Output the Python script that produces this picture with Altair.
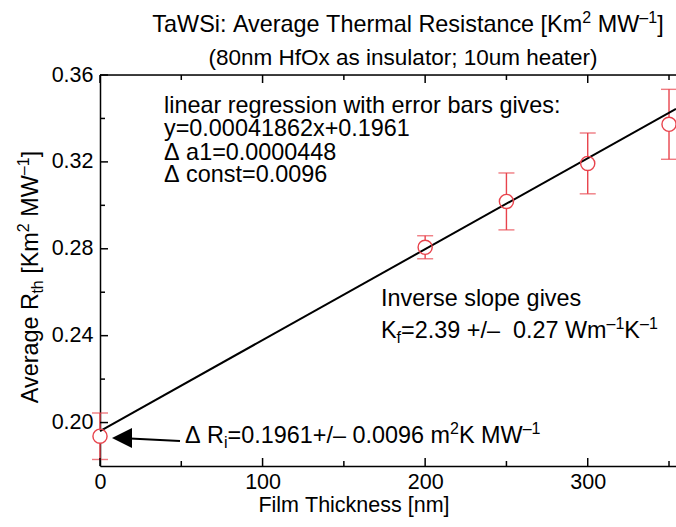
import altair as alt
import pandas as pd

# ---------------- data ----------------
thickness = [0, 200, 250, 300, 350]
rth = [0.1937, 0.2807, 0.3018, 0.3193, 0.3373]
rth_err = [0.0107, 0.0053, 0.0131, 0.0140, 0.0161]

slope = 0.00041862
intercept = 0.1961
fit_x = [0, 354.3]

x_label_ticks = [0, 100, 200, 300]
x_minor_ticks = [50, 150, 250, 350]
y_label_ticks = [0.20, 0.24, 0.28, 0.32, 0.36]
y_minor_ticks = [0.22, 0.26, 0.30, 0.34]

# rich texts: (text, kind) with kind n = normal, sup, sub
title_parts = [("TaWSi: Average Thermal Resistance [Km", "n"), ("2", "sup"),
               (" MW", "n"), ("–1", "sup"), ("]", "n")]
subtitle_text = "(80nm HfOx as insulator; 10um heater)"
x_title = "Film Thickness [nm]"
y_title_parts = [("Average R", "n"), ("th", "sub"), (" [Km", "n"), ("2", "sup"),
                 (" MW", "n"), ("–1", "sup"), ("]", "n")]
fit_lines = ["linear regression with error bars gives:",
             "y=0.00041862x+0.1961",
             "Δ a1=0.0000448",
             "Δ const=0.0096"]
slope_line1 = "Inverse slope gives"
kf_parts = [("K", "n"), ("f", "sub"), ("=2.39 +/–  0.27 Wm", "n"), ("–1", "sup"),
            ("K", "n"), ("–1", "sup")]
ri_parts = [("Δ R", "n"), ("i", "sub"), ("=0.1961+/– 0.0096 m", "n"), ("2", "sup"),
            ("K MW", "n"), ("–1", "sup")]

# ---------------- layout ----------------
W, H = 576, 391
FONT = "Liberation Sans"
FS = 23.4
SUBFS = 16
RED = "#e8434c"
NBSP = "\u00a0"

# Arial / Liberation Sans advance widths (1/1000 em)
AW = {" ": 278, "(": 333, ")": 333, "+": 584, "-": 333, ".": 278, "/": 278,
      ":": 278, ";": 278, "=": 584, "[": 278, "]": 278, "–": 556, "Δ": 668,
      "A": 667, "H": 722, "K": 667, "M": 833, "O": 778, "R": 722, "S": 667,
      "T": 611, "W": 944, "F": 611,
      "a": 556, "b": 556, "c": 500, "e": 556, "f": 278, "g": 556, "h": 556,
      "i": 222, "k": 500, "l": 222, "m": 833, "n": 556, "o": 556, "r": 333,
      "s": 500, "t": 278, "u": 556, "v": 500, "w": 722, "x": 500, "y": 500}
# approximate kerning corrections (px) for segments with kerned pairs
KERN = {"TaWSi: Average Thermal Resistance [Km": -3.0, "Average R": -1.0}


def tw(s, size):
    return sum(AW.get(c, 556) for c in s) / 1000.0 * size + KERN.get(s, 0.0)


pts = pd.DataFrame({"x": thickness, "y": rth,
                    "lo": [v - e for v, e in zip(rth, rth_err)],
                    "hi": [v + e for v, e in zip(rth, rth_err)]})
fit = pd.DataFrame({"x": fit_x, "y": [slope * v + intercept for v in fit_x]})

xs = alt.Scale(domain=[0, fit_x[1]], nice=False, zero=False)
ys = alt.Scale(domain=[0.18, 0.36], nice=False, zero=False)
xaxis = alt.Axis(values=x_label_ticks, ticks=False, tickSize=0, grid=False,
                 domainColor="black", domainWidth=1.5, labelFont=FONT,
                 labelFontSize=21.5, labelColor="black", labelPadding=5,
                 labelFlush=False, labelOverlap=False, title=None)
yaxis = alt.Axis(values=y_label_ticks, format=".2f", ticks=False, tickSize=0,
                 grid=False, domainColor="black", domainWidth=1.5,
                 labelFont=FONT, labelFontSize=21.5, labelColor="black",
                 labelPadding=7, labelFlush=False, labelOverlap=False, title=None)


def X(f="x"):
    return alt.X(f"{f}:Q", scale=xs, axis=xaxis)


def Y(f="y"):
    return alt.Y(f"{f}:Q", scale=ys, axis=yaxis)


layers = []

# error bars
layers.append(alt.Chart(pts).mark_rule(color=RED, strokeWidth=1.4).encode(
    x=X(), y=Y("lo"), y2="hi"))
for f in ["lo", "hi"]:
    layers.append(alt.Chart(pts).mark_tick(color=RED, orient="horizontal",
                                           size=16, thickness=1.4).encode(x=X(), y=Y(f)))
# circles (white filled), regression line, circle outlines
layers.append(alt.Chart(pts).mark_point(shape="circle", filled=True, color="white",
                                        size=200, opacity=1).encode(x=X(), y=Y()))
layers.append(alt.Chart(fit).mark_line(color="black", strokeWidth=2).encode(x=X(), y=Y()))
layers.append(alt.Chart(pts).mark_point(shape="circle", filled=False, color=RED,
                                        size=200, strokeWidth=1.4, opacity=1).encode(x=X(), y=Y()))

# inward ticks
for vals, ln in [(x_label_ticks, 8), (x_minor_ticks, 5)]:
    d = pd.DataFrame({"x": vals})
    layers.append(alt.Chart(d).mark_rule(color="black", strokeWidth=1.5).encode(
        x=X(), y=alt.value(H), y2=alt.value(H - ln)))
    layers.append(alt.Chart(d).mark_rule(color="black", strokeWidth=1.5).encode(
        x=X(), y=alt.value(0), y2=alt.value(ln)))
for vals, ln in [(y_label_ticks, 8), (y_minor_ticks, 5)]:
    d = pd.DataFrame({"y": vals})
    layers.append(alt.Chart(d).mark_rule(color="black", strokeWidth=1.5).encode(
        y=Y(), x=alt.value(0), x2=alt.value(ln)))

# top frame line
one = pd.DataFrame({"t": [""]})
layers.append(alt.Chart(one).mark_rule(color="black", strokeWidth=1.5).encode(
    x=alt.value(0), x2=alt.value(W), y=alt.value(0)))


def txt(t, x, y, size=FS, align="left", angle=0, baseline="alphabetic"):
    d = pd.DataFrame({"t": [t.replace(" ", NBSP)]})
    kw = dict(font=FONT, fontSize=size, color="black", align=align, baseline=baseline)
    if angle:
        kw["angle"] = angle
    return alt.Chart(d).mark_text(**kw).encode(
        text="t:N", x=alt.value(x), y=alt.value(y))


def rich(parts, x, y, center=False, vertical=False):
    sizes = [FS if k == "n" else SUBFS for _, k in parts]
    total = sum(tw(t, s) for (t, _), s in zip(parts, sizes))
    pos = -total / 2 if center else 0.0
    out = []
    for (t, k), s in zip(parts, sizes):
        shift = {"n": 0, "sup": -9, "sub": 5}[k]
        lead = len(t) - len(t.lstrip(" "))
        p = pos + lead * tw(" ", s)
        core = t.strip(" ")
        if vertical:
            out.append(txt(core, x + shift, y - p, size=s, angle=270))
        else:
            out.append(txt(core, x + p, y + shift, size=s))
        pos += tw(t, s)
    return out


layers += rich(title_parts, 308, -43, center=True)
layers.append(txt(subtitle_text, 303, -10, size=22.5, align="center"))
for i, line in enumerate(fit_lines):
    layers.append(txt(line, 64, [38, 61, 85, 107][i]))
layers.append(txt(slope_line1, 281, 231))
layers += rich(kf_parts, 281, 263)
layers += rich(ri_parts, 85, 368)
layers.append(txt(x_title, 254, 437, size=21.5, align="center"))
layers += rich(y_title_parts, -62, 202, center=True, vertical=True)

# arrow
arrow = pd.DataFrame({"t": ["arrow"]})
layers.append(alt.Chart(arrow).mark_rule(color="black", strokeWidth=2).encode(
    x=alt.value(30), x2=alt.value(80), y=alt.value(363.5), y2=alt.value(366)))
layers.append(alt.Chart(arrow).mark_point(shape="M-1,0L1,-1L1,1Z", filled=True,
                                          color="black", size=400, opacity=1).encode(
    x=alt.value(22), y=alt.value(363)))

chart = alt.layer(*layers).properties(
    width=W, height=H,
    padding={"left": 100, "top": 75, "right": 0, "bottom": 61},
    autosize=alt.AutoSizeParams(type="none"),
).configure_view(stroke=None).configure(background="white")

chart.save("out.html", embed_options={"renderer": "svg", "actions": False})
